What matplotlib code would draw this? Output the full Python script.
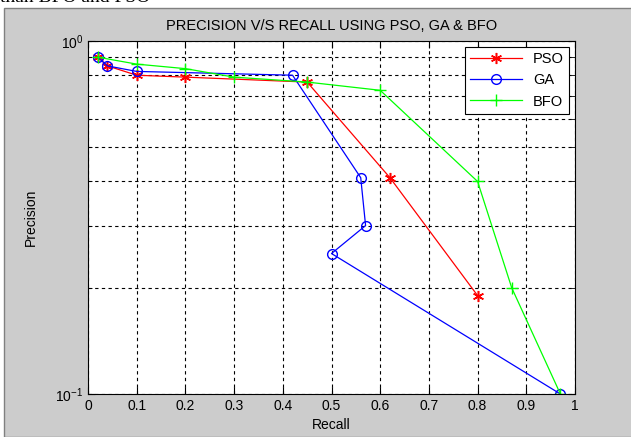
import matplotlib
matplotlib.use("Agg")
import matplotlib.pyplot as plt
from matplotlib.patches import Rectangle
from matplotlib.ticker import LogLocator, NullFormatter

plt.rcParams['font.family'] = ['Liberation Sans', 'DejaVu Sans']

# data
recall_pso = [0.02, 0.04, 0.1, 0.2, 0.45, 0.62, 0.8]
prec_pso = [0.9, 0.85, 0.8, 0.79, 0.765, 0.41, 0.19]

recall_ga = [0.02, 0.04, 0.1, 0.42, 0.56, 0.57, 0.5, 0.97]
prec_ga = [0.9, 0.85, 0.82, 0.8, 0.41, 0.3, 0.25, 0.1]

recall_bfo = [0.02, 0.1, 0.2, 0.3, 0.45, 0.6, 0.8, 0.87, 0.97]
prec_bfo = [0.9, 0.86, 0.835, 0.79, 0.765, 0.725, 0.4, 0.2, 0.1]

fig = plt.figure(figsize=(6.31, 4.37), dpi=100, facecolor='white')
# grey matlab window, slightly cropped in the document
fig.patches.append(Rectangle((4/631, 0), 1, 1 - 8/437, transform=fig.transFigure,
                             facecolor='#cccccc', edgecolor='#808080', lw=1, zorder=-10))
fig.text(0.0, 1 - 1.5/437, "than BFO and PSO", family='Liberation Serif', fontsize=14,
         va='baseline', ha='left', color='black')

ax = fig.add_axes([88/631, 1 - 394/437, 487/631, 353/437])
ax.set_facecolor('white')

ax.plot(recall_pso, prec_pso, '-', color='red', marker=(6, 2, 0), ms=8, mew=1.1, lw=0.9, label='PSO')
ax.plot(recall_ga, prec_ga, '-', color='blue', marker='o', ms=7, mfc='none', lw=0.9, label='GA')
ax.plot(recall_bfo, prec_bfo, '-', color='#00ff00', marker='+', ms=8, lw=0.9, label='BFO')

ax.set_yscale('log')
ax.set_xlim(0, 1)
ax.set_ylim(0.1, 1)
ax.set_xticks([i / 10 for i in range(11)])
ax.set_xticklabels(['0', '0.1', '0.2', '0.3', '0.4', '0.5', '0.6', '0.7', '0.8', '0.9', '1'])
ax.yaxis.set_minor_locator(LogLocator(base=10, subs=range(2, 10)))
ax.yaxis.set_minor_formatter(NullFormatter())

ax.grid(True, which='major', color='black', ls=(0, (3, 3)), lw=0.8)
ax.grid(True, which='minor', axis='y', color='black', ls=(0, (3, 3)), lw=0.8)
ax.tick_params(which='both', direction='in', top=True, right=True, labelsize=10)
ax.tick_params(which='major', length=5)
ax.tick_params(which='minor', length=3)
for s in ax.spines.values():
    s.set_linewidth(0.8)

ax.set_title('PRECISION V/S RECALL USING PSO, GA & BFO', fontsize=10.5, pad=8)
ax.set_xlabel('Recall', fontsize=10, labelpad=4)
ax.set_ylabel('Precision', fontsize=10, labelpad=12)

leg = ax.legend(loc='upper right', fontsize=10.5, fancybox=False, edgecolor='black',
                framealpha=1, borderaxespad=0.4, handlelength=3.5, borderpad=0.35)
leg.get_frame().set_linewidth(0.8)

fig.savefig('out.png', dpi=100, facecolor=fig.get_facecolor())
